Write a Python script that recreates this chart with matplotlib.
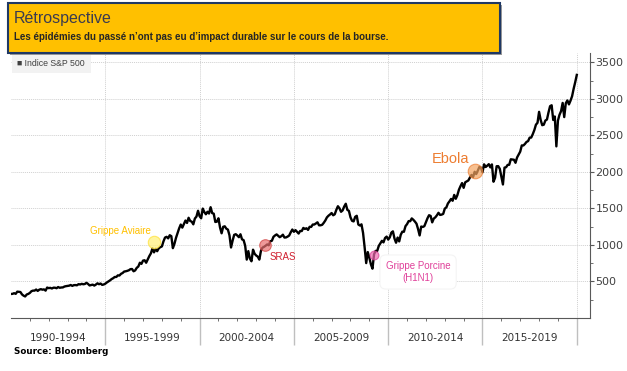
import numpy as np
import matplotlib.pyplot as plt
from matplotlib.patches import Rectangle

# S&P 500, monthly (Jan 1990 - Jan 2020)
sp500 = [
    329, 331, 340, 331, 361, 358, 356, 323, 306, 295, 322, 330,        # 1990
    344, 367, 375, 375, 390, 371, 388, 395, 388, 392, 375, 417,        # 1991
    409, 413, 404, 415, 415, 408, 424, 414, 418, 419, 431, 436,        # 1992
    439, 443, 452, 440, 450, 451, 448, 464, 459, 468, 462, 466,        # 1993
    482, 467, 446, 451, 457, 444, 458, 475, 463, 472, 454, 459,        # 1994
    470, 487, 501, 515, 533, 545, 562, 562, 584, 582, 605, 616,        # 1995
    636, 640, 646, 654, 669, 671, 640, 652, 687, 705, 757, 741,        # 1996
    786, 791, 757, 801, 848, 885, 954, 899, 947, 915, 955, 970,        # 1997
    980, 1049, 1102, 1112, 1091, 1134, 1121, 957, 1017, 1099, 1164, 1229,  # 1998
    1280, 1238, 1286, 1335, 1302, 1373, 1329, 1320, 1283, 1363, 1389, 1469,  # 1999
    1394, 1366, 1499, 1452, 1421, 1455, 1431, 1518, 1437, 1429, 1315, 1320,  # 2000
    1366, 1240, 1160, 1249, 1256, 1224, 1211, 1134, 966, 1060, 1139, 1148,   # 2001
    1130, 1107, 1147, 1077, 1067, 990, 800, 916, 815, 777, 936, 880,         # 2002
    856, 841, 800, 917, 964, 975, 990, 1008, 996, 1051, 1058, 1112,          # 2003
    1131, 1145, 1126, 1107, 1121, 1141, 1102, 1104, 1115, 1130, 1174, 1212,  # 2004
    1181, 1204, 1181, 1157, 1192, 1191, 1234, 1220, 1229, 1207, 1249, 1248,  # 2005
    1280, 1281, 1295, 1311, 1270, 1270, 1277, 1304, 1336, 1378, 1401, 1418,  # 2006
    1438, 1407, 1421, 1482, 1531, 1503, 1455, 1474, 1527, 1565, 1481, 1468,  # 2007
    1379, 1331, 1323, 1386, 1400, 1280, 1267, 1283, 1166, 969, 752, 903,     # 2008
    826, 735, 676, 873, 919, 919, 987, 1021, 1057, 1036, 1096, 1115,         # 2009
    1074, 1104, 1169, 1187, 1089, 1031, 1102, 1049, 1141, 1183, 1181, 1258,  # 2010
    1286, 1327, 1326, 1364, 1345, 1321, 1292, 1219, 1131, 1253, 1247, 1258,  # 2011
    1312, 1366, 1408, 1398, 1310, 1362, 1379, 1407, 1441, 1412, 1416, 1426,  # 2012
    1498, 1515, 1569, 1598, 1631, 1606, 1686, 1633, 1682, 1757, 1806, 1848,  # 2013
    1783, 1859, 1872, 1884, 1924, 1960, 1931, 2003, 1972, 2018, 2068, 2059,  # 2014
    1995, 2105, 2068, 2086, 2107, 2063, 2104, 1867, 1920, 2079, 2080, 2044,  # 2015
    1940, 1829, 2060, 2065, 2097, 2099, 2174, 2171, 2168, 2126, 2199, 2239,  # 2016
    2279, 2364, 2363, 2384, 2412, 2423, 2470, 2472, 2519, 2575, 2648, 2674,  # 2017
    2824, 2714, 2641, 2648, 2705, 2718, 2816, 2902, 2914, 2712, 2760, 2351,  # 2018
    2704, 2784, 2834, 2946, 2752, 2942, 2980, 2926, 2977, 3038, 3141, 3231,  # 2019
    3330,                                                                    # 2020
]
start_year = 1990

period_labels = ["1990-1994", "1995-1999", "2000-2004", "2005-2009", "2010-2014", "2015-2019"]
period_bounds = [1995, 2000, 2005, 2010, 2015, 2020]

# events: label, year, value
events = ["Grippe Aviaire", "SRAS", "Grippe Porcine\n(H1N1)", "Ebola"]
event_x = [1997.57, 2003.47, 2009.25, 2014.6]
event_y = [1045, 1000, 863, 2018]

years = start_year + np.arange(len(sp500)) / 12.0

fig = plt.figure(figsize=(6.27, 3.71), dpi=100)
ax = fig.add_axes([11/627, 53/371, 579/627, 265/371])

ax.plot(years, sp500, color="black", lw=1.7, zorder=3)

ax.set_xlim(1990, 2020.7)
ax.set_ylim(0, 3630)

# grid
for v in range(500, 3501, 500):
    ax.axhline(v, color="#d0d0d0", lw=0.7, ls=(0, (1, 1)), zorder=1)
for b in period_bounds:
    ax.axvline(b, color="#d0d0d0", lw=0.7, ls=(0, (1, 1)), zorder=1)

# spines / ticks
for s in ["top", "left"]:
    ax.spines[s].set_visible(False)
ax.spines["bottom"].set_color("#595959")
ax.spines["right"].set_color("#595959")
ax.yaxis.tick_right()
ax.set_yticks(range(500, 3501, 500))
ax.set_yticks(np.arange(250, 3630, 250), minor=True)
ax.tick_params(axis="y", which="major", length=3, width=0.8, color="#595959",
               labelsize=8, labelcolor="#404040", pad=1)
ax.tick_params(axis="y", which="minor", length=2, width=0.6, color="#595959")

mids = [1992.5 + 5 * i for i in range(len(period_labels))]
ax.set_xticks(mids)
ax.set_xticklabels(period_labels)
ax.set_xticks(np.arange(1991, 2021, 1), minor=True)
ax.tick_params(axis="x", which="major", length=0, labelsize=7.5,
               labelcolor="#333333", pad=11)
ax.tick_params(axis="x", which="minor", length=2.5, width=0.6, color="#595959")
ax.vlines(period_bounds, -0.102, 0, transform=ax.get_xaxis_transform(),
          color="#bfbfbf", lw=1, clip_on=False)

# event markers
circle_fc = ["#fff176", "#e87070", "#f06ab0", "#f4a460"]
circle_ec = ["#ffe033", "#d04040", "#d63d92", "#ed7d31"]
circle_s = [80, 70, 40, 110]
for i in range(len(events)):
    ax.scatter(event_x[i], event_y[i], s=circle_s[i], color=circle_fc[i],
               edgecolor=circle_ec[i], lw=0.8, alpha=0.7, zorder=4)

ax.annotate(events[0], (event_x[0], event_y[0]), xytext=(-33, 11),
            textcoords="offset pixels", ha="center", va="center",
            fontsize=7, color="#ffc000", family="Liberation Sans")
ax.annotate(events[1], (event_x[1], event_y[1]), xytext=(18, -12),
            textcoords="offset pixels", ha="center", va="center",
            fontsize=7, color="#d02030", family="Liberation Sans")
ax.annotate(events[2], (event_x[2], event_y[2]), xytext=(44, -17),
            textcoords="offset pixels", ha="center", va="center",
            fontsize=7, color="#e0409a", family="Liberation Sans",
            linespacing=1.3,
            bbox=dict(boxstyle="round,pad=0.6", fc="white", ec="#f4f4f4", lw=0.8))
ax.annotate(events[3], (event_x[3], event_y[3]), xytext=(-24, 12),
            textcoords="offset pixels", ha="center", va="center",
            fontsize=10.5, color="#ed7d31", family="Liberation Sans")

# legend box
fig.patches.append(Rectangle((12/627, 1 - 73/371), 79/627, 21/371,
                             transform=fig.transFigure, fc="#f2f2f2", ec="none", zorder=5))
fig.text(17/627, 1 - 63/371, "\u25a0 Indice S&P 500", fontsize=6.3, color="#404040",
         va="center", family="Liberation Sans", zorder=6)

# title box with shadow
fig.patches.append(Rectangle((10/627, 1 - 55/371), 492/627, 50/371,
                             transform=fig.transFigure, fc="#9a9a9a", ec="none", zorder=7))
fig.patches.append(Rectangle((8/627, 1 - 53/371), 492/627, 50/371,
                             transform=fig.transFigure, fc="#ffc000", ec="#1f3864",
                             lw=1.5, zorder=8))
fig.text(14/627, 1 - 18/371, "Rétrospective", fontsize=11.5, color="#3b3b4f",
         va="center", family="Liberation Sans", zorder=9)
fig.text(14/627, 1 - 37/371,
         "Les épidémies du passé n\u2019ont pas eu d\u2019impact durable sur le cours de la bourse.",
         fontsize=7, weight="bold", color="#262626", va="center",
         family="Liberation Sans", zorder=9)

fig.text(14/627, 1 - 352/371, "Source: Bloomberg", fontsize=6.3, weight="bold",
         color="black", va="center")

fig.savefig("out.png", dpi=100)
